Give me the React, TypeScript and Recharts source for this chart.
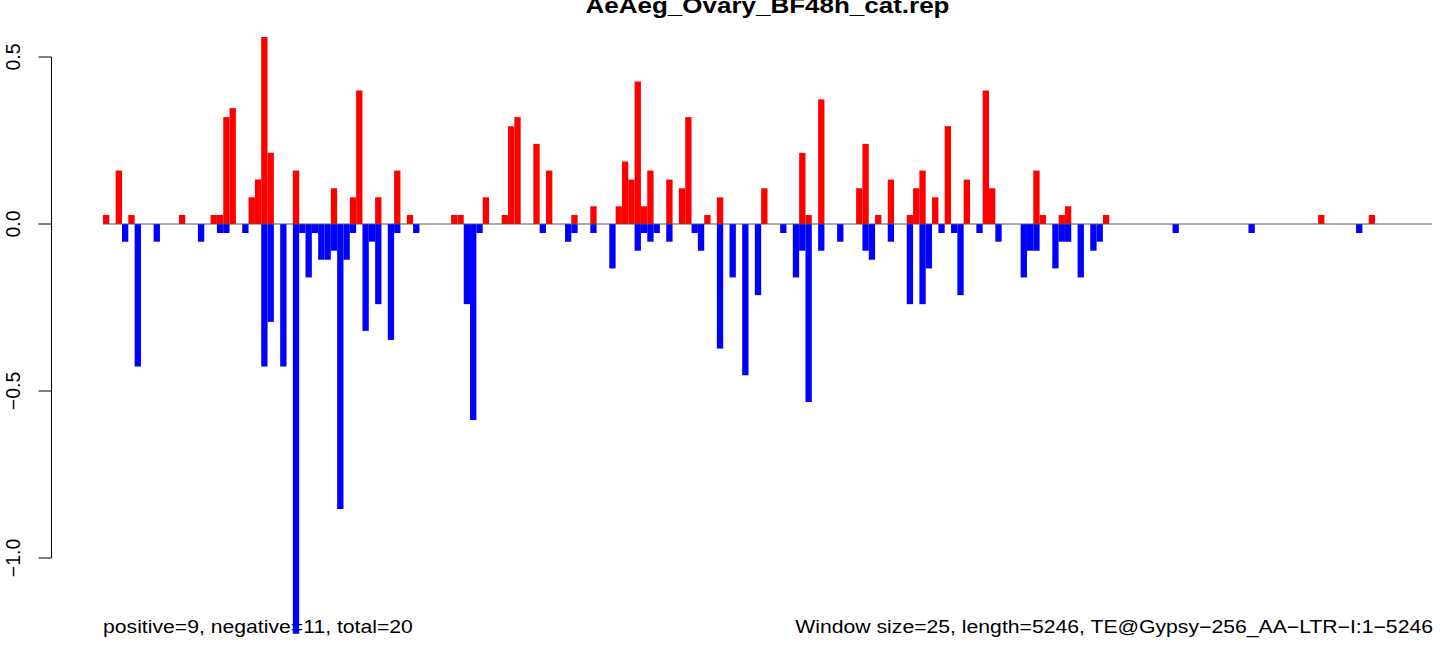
import React from 'react';
import { Bar, BarChart, ReferenceLine, XAxis, YAxis } from 'recharts';

// text
const TITLE = 'AeAeg_Ovary_BF48h_cat.rep';
const FOOTER_LEFT = 'positive=9, negative=11, total=20';
const FOOTER_RIGHT = 'Window size=25, length=5246, TE@Gypsy\u2212256_AA\u2212LTR\u2212I:1\u22125246';
const WINDOW_SIZE = 25;
const Y_TICKS = [-1, -0.5, 0, 0.5];
const Y_DOMAIN = [-1.25, 0.6];

// one value per 25bp window (210 windows), positive strand
const positive = [
  0.027, 0, 0.16, 0, 0.027, 0, 0, 0, 0, 0,
  0, 0, 0.027, 0, 0, 0, 0, 0.027, 0.027, 0.32,
  0.347, 0, 0, 0.08, 0.133, 0.56, 0.213, 0, 0, 0,
  0.16, 0, 0, 0, 0, 0, 0.107, 0, 0, 0.08,
  0.4, 0, 0, 0.08, 0, 0, 0.16, 0, 0.027, 0,
  0, 0, 0, 0, 0, 0.027, 0.027, 0, 0, 0,
  0.08, 0, 0, 0.027, 0.293, 0.32, 0, 0, 0.24, 0,
  0.16, 0, 0, 0, 0.027, 0, 0, 0.053, 0, 0,
  0, 0.053, 0.187, 0.133, 0.427, 0.053, 0.16, 0, 0, 0.133,
  0, 0.107, 0.32, 0, 0, 0.027, 0, 0.08, 0, 0,
  0, 0, 0, 0, 0.107, 0, 0, 0, 0, 0,
  0.213, 0.027, 0, 0.373, 0, 0, 0, 0, 0, 0.107,
  0.24, 0, 0.027, 0, 0.133, 0, 0, 0.027, 0.107, 0.16,
  0, 0.08, 0, 0.293, 0, 0, 0.133, 0, 0, 0.4,
  0.107, 0, 0, 0, 0, 0, 0, 0.16, 0.027, 0,
  0, 0.027, 0.053, 0, 0, 0, 0, 0, 0.027, 0,
  0, 0, 0, 0, 0, 0, 0, 0, 0, 0,
  0, 0, 0, 0, 0, 0, 0, 0, 0, 0,
  0, 0, 0, 0, 0, 0, 0, 0, 0, 0,
  0, 0, 0.027, 0, 0, 0, 0, 0, 0, 0,
  0.027, 0, 0, 0, 0, 0, 0, 0, 0, 0,
];

// negative strand
const negative = [
  0, 0, 0, -0.053, 0, -0.427, 0, 0, -0.053, 0,
  0, 0, 0, 0, 0, -0.053, 0, 0, -0.027, -0.027,
  0, 0, -0.027, 0, 0, -0.427, -0.293, 0, -0.427, 0,
  -1.227, -0.027, -0.16, -0.027, -0.107, -0.107, -0.08, -0.853, -0.107, -0.027,
  0, -0.32, -0.053, -0.24, 0, -0.347, -0.027, 0, 0, -0.027,
  0, 0, 0, 0, 0, 0, 0, -0.24, -0.587, -0.027,
  0, 0, 0, 0, 0, 0, 0, 0, 0, -0.027,
  0, 0, 0, -0.053, -0.027, 0, 0, -0.027, 0, 0,
  -0.133, 0, 0, 0, -0.08, -0.027, -0.053, -0.027, 0, -0.053,
  0, 0, 0, -0.027, -0.08, 0, 0, -0.373, 0, -0.16,
  0, -0.453, 0, -0.213, 0, 0, 0, -0.027, 0, -0.16,
  -0.08, -0.533, 0, -0.08, 0, 0, -0.053, 0, 0, 0,
  -0.08, -0.107, 0, 0, -0.053, 0, 0, -0.24, 0, -0.24,
  -0.133, 0, -0.027, 0, -0.027, -0.213, 0, 0, -0.027, 0,
  0, -0.053, 0, 0, 0, -0.16, -0.08, -0.08, 0, 0,
  -0.133, -0.053, -0.053, 0, -0.16, 0, -0.08, -0.053, 0, 0,
  0, 0, 0, 0, 0, 0, 0, 0, 0, -0.027,
  0, 0, 0, 0, 0, 0, 0, 0, 0, 0,
  0, -0.027, 0, 0, 0, 0, 0, 0, 0, 0,
  0, 0, 0, 0, 0, 0, 0, 0, -0.027, 0,
  0, 0, 0, 0, 0, 0, 0, 0, 0, 0,
];

const data = positive.map((p, i) => ({ start: i * WINDOW_SIZE + 1, pos: p, neg: negative[i] }));

const W = 1444;
const H = 656;
// 0.0 sits at y=224, 0.5 at y=57 in the reference
const MARGIN = { top: 23.6, right: 12, bottom: 14.5, left: 0 };
const AXIS_W = 103;
const LABEL_TO_AXIS = 32; // R draws the axis well left of the first bar
const TICK_LEN = 13;
const plotWidth = W - MARGIN.right - MARGIN.left - AXIS_W;
const FONT = '"Liberation Sans", Arial, Helvetica, sans-serif';

const fmtTick = (v: number) => (v < 0 ? '\u2212' : '') + Math.abs(v).toFixed(1);

// label + tick mark + the piece of axis line up to the next tick (R style axis)
const YTick = ({ x, y, payload, height }: any) => {
  const ax = x + LABEL_TO_AXIS;
  const maxTick = Math.max(...Y_TICKS);
  const step = Y_TICKS[1] - Y_TICKS[0];
  const pxPerUnit = (height ?? 618) / (Y_DOMAIN[1] - Y_DOMAIN[0]);
  return (
    <g>
      <line x1={ax - TICK_LEN} y1={y} x2={ax} y2={y} stroke="#000" strokeWidth={1} />
      {payload.value < maxTick && (
        <line x1={ax} y1={y} x2={ax} y2={y - step * pxPerUnit} stroke="#000" strokeWidth={1} />
      )}
      <text
        x={x}
        y={y}
        transform={`rotate(-90, ${x}, ${y})`}
        textAnchor="middle"
        fontSize={19.5}
        fontFamily={FONT}
        fill="#000"
      >
        {fmtTick(payload.value)}
      </text>
    </g>
  );
};

// R text looks a bit squat, squeeze vertically
const SquatText = ({ x, y, anchor, size, bold, children }: any) => (
  <text
    transform={`translate(${x}, ${y}) scale(1, 0.85)`}
    textAnchor={anchor}
    fontSize={size}
    fontWeight={bold ? 'bold' : 'normal'}
    fontFamily={FONT}
    fill="#000"
  >
    {children}
  </text>
);

export default function App() {
  const barSize = (plotWidth / data.length) * 0.999;
  return (
    <div style={{ position: 'relative', width: W, height: H }}>
      <style>{'body { margin: 0; }'}</style>
      {/* texts go underneath, the long bar runs over the footer like in R */}
      <svg
        width={W}
        height={H}
        style={{ position: 'absolute', left: 0, top: 0, pointerEvents: 'none' }}
      >
        <SquatText x={767.5} y={12.7} anchor="middle" size={26} bold>
          {TITLE}
        </SquatText>
        <SquatText x={103} y={633} anchor="start" size={21.2}>
          {FOOTER_LEFT}
        </SquatText>
        <SquatText x={1433} y={633} anchor="end" size={21.2}>
          {FOOTER_RIGHT}
        </SquatText>
      </svg>
      <BarChart width={W} height={H} data={data} margin={MARGIN} barGap={0} barCategoryGap={0}>
        <XAxis xAxisId="p" dataKey="start" hide />
        <XAxis xAxisId="n" dataKey="start" hide />
        <YAxis
          width={AXIS_W}
          domain={Y_DOMAIN}
          ticks={Y_TICKS}
          interval={0}
          axisLine={false}
          tickLine={false}
          tickSize={0}
          tickMargin={83.5}
          tick={<YTick />}
        />
        <ReferenceLine xAxisId="p" y={0} stroke="#555555" strokeWidth={1} />
        <Bar xAxisId="p" dataKey="pos" fill="#FF0000" barSize={barSize} isAnimationActive={false} />
        <Bar xAxisId="n" dataKey="neg" fill="#0000FF" barSize={barSize} isAnimationActive={false} />
      </BarChart>
    </div>
  );
}
